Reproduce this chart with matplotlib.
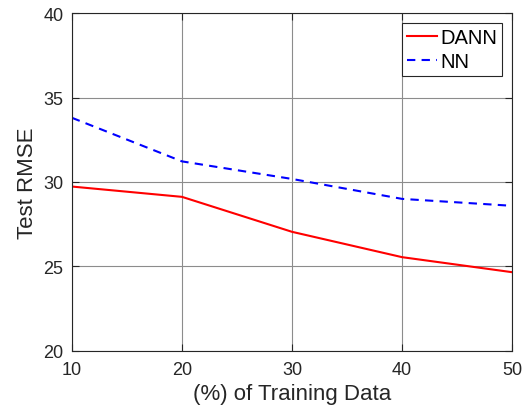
import numpy as np
import matplotlib.pyplot as plt

plt.rcParams['font.family'] = ['Liberation Sans', 'DejaVu Sans']

train_pct = [10, 20, 30, 40, 50]
dann_rmse = [29.73, 29.12, 27.05, 25.55, 24.66]
nn_rmse = [33.8, 31.22, 30.18, 29.0, 28.59]

fig = plt.figure(figsize=(5.29, 4.14), dpi=100)
ax = fig.add_axes([0.136, 0.150, 0.832, 0.816])
ax.plot(train_pct, dann_rmse, "-", color="#ff0000", lw=1.5, label="DANN")
ax.plot(train_pct, nn_rmse, "--", color="#0000ff", lw=1.5, dashes=(4, 3), label="NN")
ax.set_xlim(10, 50)
ax.set_ylim(20, 40)
ax.set_xticks([10, 20, 30, 40, 50])
ax.set_yticks([20, 25, 30, 35, 40])
ax.grid(True, color="#8c8c8c", lw=0.8)
ax.tick_params(direction="in", labelsize=13, colors="#262626", length=5, top=True, right=True)
ax.tick_params(axis="x", pad=7)
ax.tick_params(axis="y", pad=6)
for s in ax.spines.values():
    s.set_color("#262626")
    s.set_linewidth(0.8)
ax.set_xlabel("(%) of Training Data", fontsize=16, color="#262626", labelpad=4)
ax.set_ylabel("Test RMSE", fontsize=16, color="#262626", labelpad=4)
leg = ax.legend(loc="upper right", fontsize=14.5, fancybox=False, framealpha=1,
                edgecolor="#262626", borderaxespad=0.5, handlelength=1.5,
                borderpad=0.25, labelspacing=0.25, handletextpad=0.15)
leg.get_frame().set_linewidth(0.8)
fig.savefig("out.png", dpi=100)
